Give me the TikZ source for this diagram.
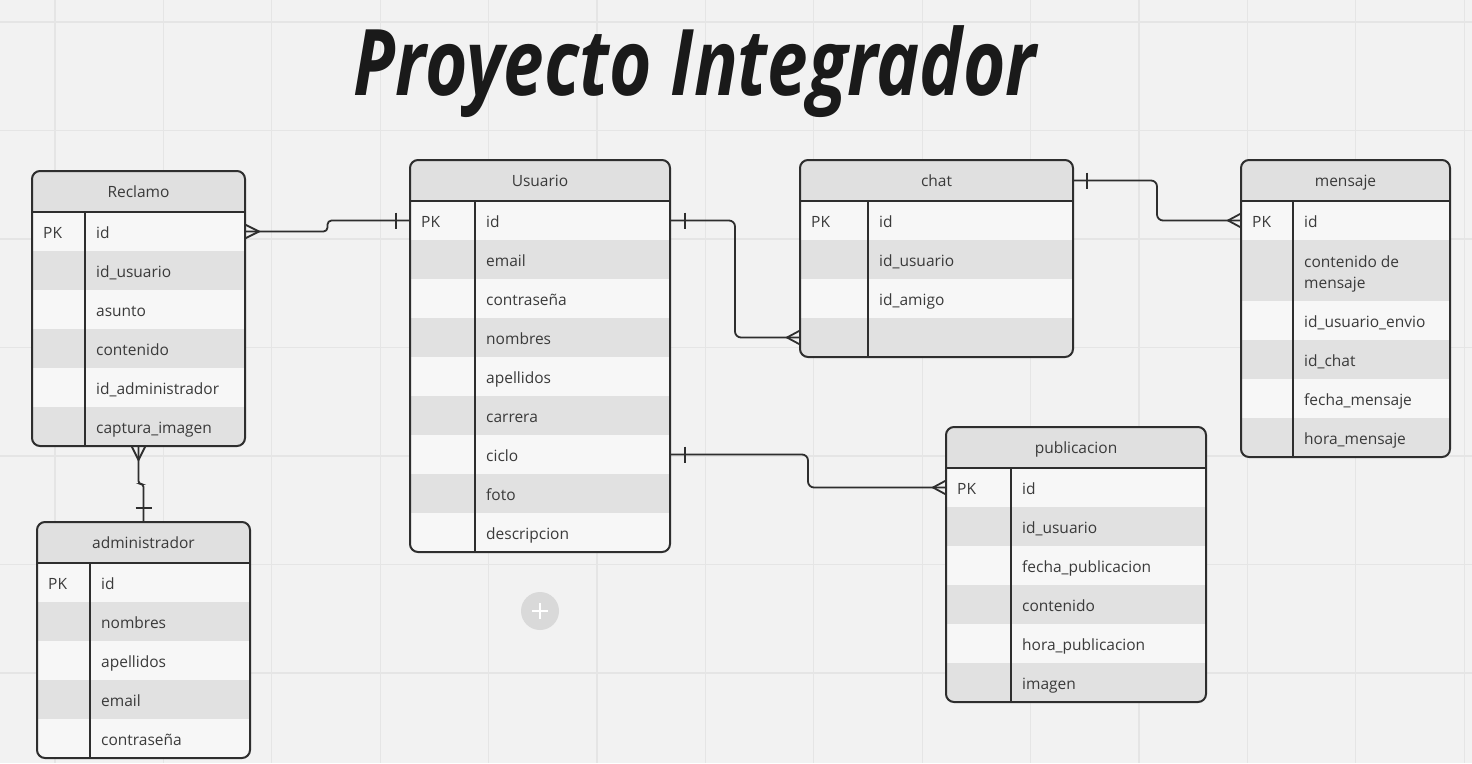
\documentclass[tikz,border=0pt]{standalone}
\usepackage{fontspec}
\setmainfont{Open Sans}
\usetikzlibrary{calc}
\definecolor{bg}{HTML}{F2F2F2}
\definecolor{gridc}{HTML}{E5E5E5}
\definecolor{hdrc}{HTML}{E0E0E0}
\definecolor{rowa}{HTML}{F7F7F7}
\definecolor{rowb}{HTML}{E1E1E1}
\definecolor{ink}{HTML}{2E2E2E}
\definecolor{txt}{HTML}{3A3A3A}
\definecolor{plusc}{HTML}{D9D9D9}
\definecolor{titlec}{HTML}{1A1A1A}
\tikzset{
  gridline/.style={draw=gridc, line width=1.3pt},
  field/.style={font=\fontsize{15.5}{21}\selectfont, text=txt, inner sep=0pt, anchor=base west, align=left},
  hdrtext/.style={font=\fontsize{15.5}{21}\selectfont, text=txt, inner sep=0pt, anchor=base},
  rowbox/.style={rectangle, inner sep=0pt, outer sep=0pt, draw=none},
  hdrbox/.style={rectangle, inner sep=0pt, outer sep=0pt, fill=hdrc, draw=none},
  tablebox/.style={rectangle, inner sep=0pt, outer sep=0pt, draw=ink, line width=2pt, rounded corners=8pt},
  tline/.style={draw=ink, line width=2pt},
  conn/.style={draw=ink, line width=1.8pt, rounded corners=6pt},
  ermark/.style={draw=ink, line width=1.8pt},
}
\newcommand\ertable[8]{%
  \begin{scope}
    \clip[rounded corners=8pt] (#2,#3) rectangle (#4,#5);
    \node[hdrbox, minimum width={(#4-#2)*1pt}, minimum height=41pt] (#1-title) at ({(#2+#4)/2},{#3+20.5}) {};
    \node[hdrtext] (#1-name) at ({(#2+#4)/2},{#3+26.5}) {#7};
    \pgfmathsetmacro\ytmp{#3+41}\xdef\ycur{\ytmp}
    \foreach \t/\h [count=\i] in {#8} {
      \pgfmathsetmacro\ymid{\ycur+\h/2}
      \ifodd\i \def\rc{rowa}\else\def\rc{rowb}\fi
      \node[rowbox, fill=\rc, minimum width={(#4-#2)*1pt}, minimum height={\h*1pt}] (#1-\i) at ({(#2+#4)/2},\ymid) {};
      \node[field] (#1-f\i) at ({#6+11},{\ycur+\h-13}) {\t};
      \pgfmathsetmacro\ynext{\ycur+\h}
      \xdef\ycur{\ynext}
    }
  \end{scope}
  \node[field] (#1-pk) at ({#2+11},{#3+67}) {PK};
  \draw[tline] (#2,{#3+41}) -- (#4,{#3+41});
  \draw[tline] (#6,{#3+41}) -- (#6,#5);
  \node[tablebox, minimum width={(#4-#2)*1pt}, minimum height={(#5-#3)*1pt}] (#1) at ({(#2+#4)/2},{(#3+#5)/2}) {};
}
\begin{document}
\begin{tikzpicture}[x=1pt,y=-1pt]
\useasboundingbox (0,0) rectangle (1472,763);
\fill[bg] (0,0) rectangle (1472,763);
\foreach \k in {0,...,13} \draw[gridline] ({55+108.4*\k},0) -- ({55+108.4*\k},763);
\foreach \k in {0,...,6} \draw[gridline] (0,{22+108.5*\k}) -- (1472,{22+108.5*\k});

\node[font=\fontsize{92}{92}\selectfont\bfseries\itshape, text=titlec, anchor=base, inner sep=0pt] (title) at (695,95) {\scalebox{0.79}[1]{Proyecto Integrador}};

\ertable{reclamo}{32}{171}{245}{446}{85}{Reclamo}{id/39, id\_usuario/39, asunto/39, contenido/39, id\_administrador/39, captura\_imagen/39}
\ertable{usuario}{410}{160}{670}{552}{475}{Usuario}{id/39, email/39, contraseña/39, nombres/39, apellidos/39, carrera/39, ciclo/39, foto/39, descripcion/39}
\ertable{chat}{800}{160}{1073}{357}{868}{chat}{id/39, id\_usuario/39, id\_amigo/39, {}/39}
\ertable{mensaje}{1241}{160}{1450}{457}{1293}{mensaje}{id/39, contenido de\\mensaje/61, id\_usuario\_envio/39, id\_chat/39, fecha\_mensaje/39, hora\_mensaje/39}
\ertable{publicacion}{946}{427}{1206}{702}{1011}{publicacion}{id/39, id\_usuario/39, fecha\_publicacion/39, contenido/39, hora\_publicacion/39, imagen/39}
\ertable{admin}{37}{522}{250}{758}{90}{administrador}{id/39, nombres/39, apellidos/39, email/39, contraseña/39}

% add button
\node[circle, fill=plusc, minimum size=38pt, inner sep=0pt] (addbtn) at (540,611) {};
\draw[white, line width=2.2pt] ($(addbtn)+(-8,0)$) -- ($(addbtn)+(8,0)$);
\draw[white, line width=2.2pt] ($(addbtn)+(0,-8)$) -- ($(addbtn)+(0,8)$);

% Reclamo -- Usuario
\coordinate (m1) at ($(reclamo-1.east)!0.5!(usuario-1.west)$);
\draw[conn, rounded corners=4pt] (reclamo-1.east) -- (m1 |- reclamo-1.east) -- (m1 |- usuario-1.west) -- (usuario-1.west);
\draw[ermark] ($(reclamo-1.east)+(0,-7)$) -- ($(reclamo-1.east)+(14,0)$) -- ($(reclamo-1.east)+(0,7)$);
\draw[ermark] ($(usuario-1.west)+(-14,-8)$) -- ($(usuario-1.west)+(-14,8)$);

% Reclamo -- administrador
\coordinate (m2) at ($(reclamo.south)!0.5!(admin.north)$);
\draw[conn, rounded corners=3pt] (reclamo.south) -- (reclamo.south |- m2) -- (admin.north |- m2) -- (admin.north);
\draw[ermark] ($(reclamo.south)+(-7,0)$) -- ($(reclamo.south)+(0,14)$) -- ($(reclamo.south)+(7,0)$);
\draw[ermark] ($(admin.north)+(-8,-14)$) -- ($(admin.north)+(8,-14)$);

% Usuario -- chat
\coordinate (m3) at ($(usuario-1.east)!0.5!(chat-4.west)$);
\draw[conn] (usuario-1.east) -- (m3 |- usuario-1.east) -- (m3 |- chat-4.west) -- (chat-4.west);
\draw[ermark] ($(usuario-1.east)+(15,-8)$) -- ($(usuario-1.east)+(15,8)$);
\draw[ermark] ($(chat-4.west)+(0,-7)$) -- ($(chat-4.west)+(-13,0)$) -- ($(chat-4.west)+(0,7)$);

% chat -- mensaje
\coordinate (m4) at ($(chat-title.east)!0.5!(mensaje-1.west)$);
\draw[conn] (chat-title.east) -- (m4 |- chat-title.east) -- (m4 |- mensaje-1.west) -- (mensaje-1.west);
\draw[ermark] ($(chat-title.east)+(14,-8)$) -- ($(chat-title.east)+(14,8)$);
\draw[ermark] ($(mensaje-1.west)+(0,-7)$) -- ($(mensaje-1.west)+(-13,0)$) -- ($(mensaje-1.west)+(0,7)$);

% Usuario -- publicacion
\coordinate (m5) at ($(usuario-7.east)!0.5!(publicacion-1.west)$);
\draw[conn] (usuario-7.east) -- (m5 |- usuario-7.east) -- (m5 |- publicacion-1.west) -- (publicacion-1.west);
\draw[ermark] ($(usuario-7.east)+(15,-8)$) -- ($(usuario-7.east)+(15,8)$);
\draw[ermark] ($(publicacion-1.west)+(0,-7)$) -- ($(publicacion-1.west)+(-13,0)$) -- ($(publicacion-1.west)+(0,7)$);
\end{tikzpicture}
\end{document}
